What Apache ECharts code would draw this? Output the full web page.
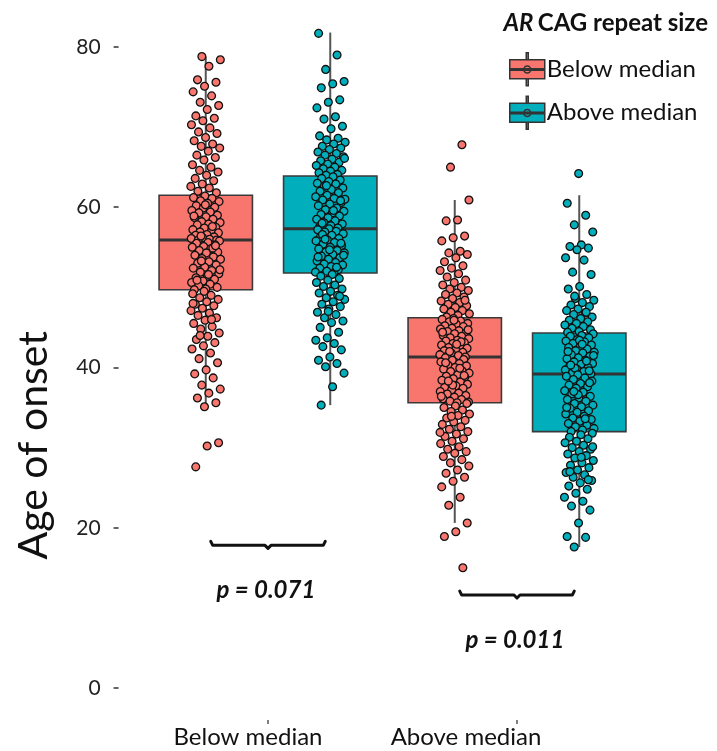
<!DOCTYPE html>
<html><head><meta charset="utf-8">
<script src="https://cdn.jsdelivr.net/npm/echarts@6/dist/echarts.min.js"></script>
<style>html,body{margin:0;padding:0;background:#fff}#c{width:717px;height:751px}</style>
</head><body><div id="c"></div>
<script>
// ---------- data ----------
const groups = ['Below median', 'Above median'];          // x categories (positions 1, 2)
const cagLevels = ['Below median', 'Above median'];       // legend / series
const yTicks = [0, 20, 40, 60, 80];
// box stats [whiskerLow, Q1, median, Q3, whiskerHigh], one row per x category
const boxCagBelow = [[35.1, 49.7, 55.9, 61.5, 78.8], [20.6, 35.6, 41.3, 46.2, 60.9]];
const boxCagAbove = [[35.3, 51.8, 57.3, 63.9, 81.8], [17.6, 32.0, 39.2, 44.3, 61.5]];
// individual ages of onset
const ptsCagBelow_grpBelow = [78.8,78.4,77.6,75.9,75.6,75.1,74.4,73.9,73.1,72.7,72.2,71.4,71.1,70.8,70.3,69.9,69.4,69.2,68.7,68.3,67.9,67.6,67.4,67.0,66.5,66.2,65.9,65.3,65.0,64.6,64.4,64.0,63.6,63.3,62.9,62.6,62.4,62.0,61.8,
61.4,61.2,61.1,60.8,60.7,60.5,60.2,60.0,59.9,59.6,59.4,59.3,59.0,58.8,58.7,58.5,58.2,58.1,57.9,57.8,57.5,57.4,57.2,57.0,56.9,56.8,56.6,56.5,56.3,56.2,56.1,56.0,55.9,55.9,60.3,58.9,57.6,56.4,
55.8,55.6,55.5,55.3,55.1,55.0,54.8,54.6,54.4,54.3,54.0,53.8,53.6,53.5,53.2,53.0,52.8,52.5,52.4,52.1,51.9,51.7,51.4,51.2,51.0,50.8,50.6,50.4,50.2,50.0,49.8,49.7,54.9,53.3,52.2,51.6,50.9,55.2,
49.5,49.2,49.0,48.7,48.5,48.2,47.9,47.7,47.4,47.1,46.8,46.5,46.2,45.9,45.5,45.1,44.8,44.3,43.9,43.5,43.1,42.7,42.3,41.8,41.1,40.6,39.7,39.2,38.7,37.8,37.3,36.8,36.2,35.6,35.1,48.0,46.0,44.0,
30.6,30.2,27.6];
const ptsCagAbove_grpBelow = [81.7,79.0,77.2,75.7,75.4,74.9,73.4,73.1,72.4,71.3,71.0,70.1,69.8,68.9,68.6,68.4,68.1,67.9,67.6,67.4,67.2,66.9,66.7,66.5,66.3,66.0,65.8,65.6,65.4,65.2,65.0,64.8,64.6,64.5,64.3,64.1,64.0,66.1,
63.8,63.6,63.4,63.2,63.0,62.9,62.6,62.4,62.2,62.0,61.8,61.5,61.3,61.1,60.9,60.6,60.4,60.2,59.9,59.7,59.5,59.3,59.1,58.9,58.7,58.5,58.3,58.1,57.9,57.7,57.5,57.4,62.7,61.0,59.6,58.0,60.8,57.3,
57.2,57.0,56.9,56.7,56.5,56.3,56.1,55.9,55.8,55.6,55.4,55.2,55.0,54.8,54.6,54.4,54.3,54.1,53.9,53.7,53.5,53.3,53.1,52.9,52.8,52.6,52.4,52.2,52.0,51.9,51.8,56.6,55.5,54.7,53.8,52.5,56.0,54.0,
51.6,51.4,51.1,50.9,50.6,50.3,50.1,49.8,49.5,49.3,49.0,48.7,48.5,48.2,47.9,47.6,47.3,46.9,46.6,46.2,45.8,45.6,45.0,44.4,43.7,43.4,43.0,42.6,42.2,41.3,40.9,40.5,40.1,39.3,37.6,35.3,48.9,47.0];
const ptsCagBelow_grpAbove = [67.8,65.0,60.9,58.4,58.3,56.4,56.2,55.8,54.5,54.3,54.1,53.7,53.2,52.7,52.4,52.1,51.7,51.3,50.9,50.6,50.3,50.0,49.8,49.6,49.3,49.1,48.8,48.6,48.3,48.1,47.9,47.7,47.5,47.3,47.1,46.9,46.7,46.5,46.3,48.4,
46.1,46.0,45.8,45.7,45.5,45.4,45.2,45.1,44.9,44.8,44.6,44.5,44.3,44.2,44.0,43.9,43.7,43.6,43.4,43.3,43.1,43.0,42.8,42.7,42.5,42.4,42.2,42.1,41.9,41.8,41.6,41.5,41.4,41.3,45.9,44.4,43.2,42.0,44.7,42.9,
41.2,41.0,40.9,40.7,40.5,40.3,40.2,40.0,39.8,39.6,39.5,39.3,39.1,38.9,38.8,38.6,38.4,38.2,38.1,37.9,37.7,37.5,37.4,37.2,37.0,36.8,36.7,36.5,36.3,36.1,36.0,35.8,35.7,35.6,40.6,39.0,37.8,36.4,39.9,38.3,
35.5,35.2,35.0,34.7,34.5,34.2,34.0,33.7,33.4,33.2,32.9,32.6,32.3,32.0,31.7,31.4,31.1,30.8,30.5,30.1,29.8,29.5,29.3,28.9,28.5,28.1,27.7,27.2,26.8,26.3,25.8,25.1,23.8,22.8,20.6,19.5,18.9,15.0,33.9,31.9];
const ptsCagAbove_grpAbove = [64.2,60.5,59.0,57.8,56.9,55.3,55.1,54.9,54.7,53.7,53.4,51.9,51.6,50.1,49.8,49.1,48.6,48.4,48.1,47.8,47.6,47.3,47.1,46.8,46.6,46.3,46.1,45.9,45.7,45.5,45.3,45.1,44.9,44.7,44.5,44.4,46.9,48.9,
44.2,44.0,43.9,43.7,43.5,43.3,43.2,43.0,42.8,42.6,42.5,42.3,42.1,41.9,41.8,41.6,41.4,41.2,41.1,40.9,40.7,40.5,40.4,40.2,40.0,39.8,39.7,39.5,39.3,39.2,43.4,42.0,40.8,39.9,41.5,42.9,40.3,39.6,
39.1,38.9,38.7,38.5,38.3,38.0,37.8,37.6,37.4,37.1,36.9,36.7,36.4,36.2,36.0,35.8,35.5,35.3,35.1,34.9,34.6,34.4,34.2,33.9,33.7,33.5,33.3,33.0,32.8,32.6,32.4,32.2,32.0,38.1,36.6,35.0,33.6,37.0,
31.8,31.6,31.3,31.1,30.8,30.6,30.3,30.0,29.8,29.5,29.2,29.0,28.7,28.4,28.1,27.8,27.5,27.2,26.9,26.6,26.3,25.9,25.6,25.2,24.8,24.3,23.8,23.3,22.7,22.2,20.6,18.9,18.8,17.6,30.1,28.8,27.0,26.0];
// significance brackets: x category, y level, label
const bracketGroups = [1, 2];
const bracketY = [17.8, 11.6];
const pLabels = ['p = 0.071', 'p = 0.011'];

// ---------- styling / layout ----------
const FONT = 'Lato, "Open Sans", sans-serif';
const COLORS = ['#F8766D', '#00AFBB'];
const DODGE = [-0.25, 0.25];
const BOX_HALF = 0.1875;
const JITTER_HALF = 0.06;
const ICON = 'path://M16.5,0H18.5V7H16.5Z M0,7H35V26H0Z M16.5,26H18.5V33H16.5Z M0,16H35V17.5H0Z M21,16.75A3.5,3.5 0 1 1 14,16.75A3.5,3.5 0 1 1 21,16.75Z';

function jitter(i, k) {           // deterministic, low-discrepancy horizontal spread
  const f = (i * 0.6180339887 + k * 0.37) % 1;
  return (f - 0.5) * 2 * JITTER_HALF;
}

function boxSeries(si, stats) {
  const color = COLORS[si];
  return {
    type: 'custom', name: cagLevels[si], z: 2, silent: true,
    itemStyle: { color: color },
    data: stats.map((s, g) => [g + 1].concat(s)),
    encode: { x: 0, y: [1, 2, 3, 4, 5] },
    renderItem: function (params, api) {
      const x = api.value(0) + DODGE[si];
      const lo = api.coord([x, api.value(1)]);
      const q1 = api.coord([x, api.value(2)]);
      const md = api.coord([x, api.value(3)]);
      const q3 = api.coord([x, api.value(4)]);
      const hi = api.coord([x, api.value(5)]);
      const hw = api.size([BOX_HALF, 0])[0];
      return {
        type: 'group', children: [
          { type: 'line', shape: { x1: lo[0], y1: lo[1], x2: q1[0], y2: q1[1] }, style: { stroke: '#555', lineWidth: 2 } },
          { type: 'line', shape: { x1: q3[0], y1: q3[1], x2: hi[0], y2: hi[1] }, style: { stroke: '#555', lineWidth: 2 } },
          { type: 'rect', shape: { x: q1[0] - hw, y: q3[1], width: 2 * hw, height: q1[1] - q3[1] }, style: { fill: color, stroke: '#3a3a3a', lineWidth: 1.6 } },
          { type: 'line', shape: { x1: md[0] - hw, y1: md[1], x2: md[0] + hw, y2: md[1] }, style: { stroke: '#333', lineWidth: 3 } }
        ]
      };
    }
  };
}

function pointSeries(si, g, vals) {
  return {
    type: 'scatter', name: cagLevels[si], z: 3, silent: true,
    symbolSize: 7.8,
    itemStyle: { color: COLORS[si], borderColor: '#111', borderWidth: 1.3, opacity: 1 },
    data: vals.map((v, i) => [g + DODGE[si] + jitter(i, si * 2 + g), v])
  };
}

const bracketSeries = {
  type: 'custom', z: 4, silent: true,
  data: bracketGroups.map((g, i) => [g, bracketY[i]]),
  encode: { x: 0, y: 1 },
  renderItem: function (params, api) {
    const g = api.value(0), y = api.value(1);
    const a = api.coord([g - 0.23, y]), b = api.coord([g + 0.23, y]), m = api.coord([g, y]);
    return {
      type: 'group', children: [
        { type: 'polyline', shape: { points: [[a[0], a[1] - 4], [a[0] + 2, a[1]], [m[0] - 3, m[1]], [m[0], m[1] + 3], [m[0] + 3, m[1]], [b[0] - 2, b[1]], [b[0], b[1] - 4]] },
          style: { stroke: '#111', lineWidth: 3, fill: null, lineJoin: 'round', lineCap: 'round' } },
        { type: 'text', x: m[0] - 2, y: m[1] + 45,
          style: { text: pLabels[params.dataIndex], fontFamily: FONT, fontSize: 24, fontWeight: 'bold', fontStyle: 'italic', fill: '#111', align: 'center', verticalAlign: 'middle' } }
      ]
    };
  }
};

const chart = echarts.init(document.getElementById('c'));
chart.setOption({
  animation: false,
  backgroundColor: '#fff',
  textStyle: { fontFamily: FONT },
  title: {
    right: 4, top: 6,
    text: '{i|AR} {b|CAG repeat size}',
    textStyle: { rich: {
      i: { fontFamily: FONT, fontSize: 24, fontWeight: 'bold', fontStyle: 'italic', color: '#111' },
      b: { fontFamily: FONT, fontSize: 24, fontWeight: 'bold', color: '#111' }
    } }
  },
  legend: {
    orient: 'vertical', left: 504, top: 47,
    itemWidth: 35, itemHeight: 33, itemGap: 9,
    data: cagLevels.map(n => ({ name: n, icon: ICON })),
    itemStyle: { borderColor: '#333', borderWidth: 1.5 },
    textStyle: { fontFamily: FONT, fontSize: 24, color: '#111', padding: [0, 0, 0, -3] },
    selectedMode: false
  },
  grid: { left: 118.6, right: 50.6, top: 0.5, bottom: 30.95, containLabel: false },
  xAxis: {
    type: 'value', min: 0.4, max: 2.6,
    axisLine: { show: false, onZero: false }, splitLine: { show: false },
    axisTick: { show: true, customValues: [1, 2], length: 4, lineStyle: { color: '#555', width: 1.5 } },
    axisLabel: {
      customValues: [1, 2], margin: 5,
      formatter: v => (Math.round(v) === 1 ? '{a|' : '{b|') + groups[Math.round(v) - 1] + '}',
      rich: {
        a: { fontFamily: FONT, fontSize: 24, color: '#111', padding: [0, 40, 0, 0] },
        b: { fontFamily: FONT, fontSize: 24, color: '#111', padding: [0, 102, 0, 0] }
      }
    }
  },
  yAxis: {
    type: 'value', min: -4, max: 85.8,
    axisLine: { show: false, onZero: false }, splitLine: { show: false },
    axisTick: { show: true, customValues: yTicks, length: 5, lineStyle: { color: '#333', width: 1.5 } },
    axisLabel: { customValues: yTicks, fontFamily: FONT, fontSize: 21, color: '#222', margin: 18 },
    name: 'Age of onset', nameLocation: 'middle', nameRotate: 90, nameGap: 64,
    nameTextStyle: { fontFamily: FONT, fontSize: 41, color: '#111', padding: [0, 170, 0, 0] }
  },
  series: [
    boxSeries(0, boxCagBelow),
    boxSeries(1, boxCagAbove),
    pointSeries(0, 1, ptsCagBelow_grpBelow),
    pointSeries(1, 1, ptsCagAbove_grpBelow),
    pointSeries(0, 2, ptsCagBelow_grpAbove),
    pointSeries(1, 2, ptsCagAbove_grpAbove),
    bracketSeries
  ]
});
</script></body></html>
